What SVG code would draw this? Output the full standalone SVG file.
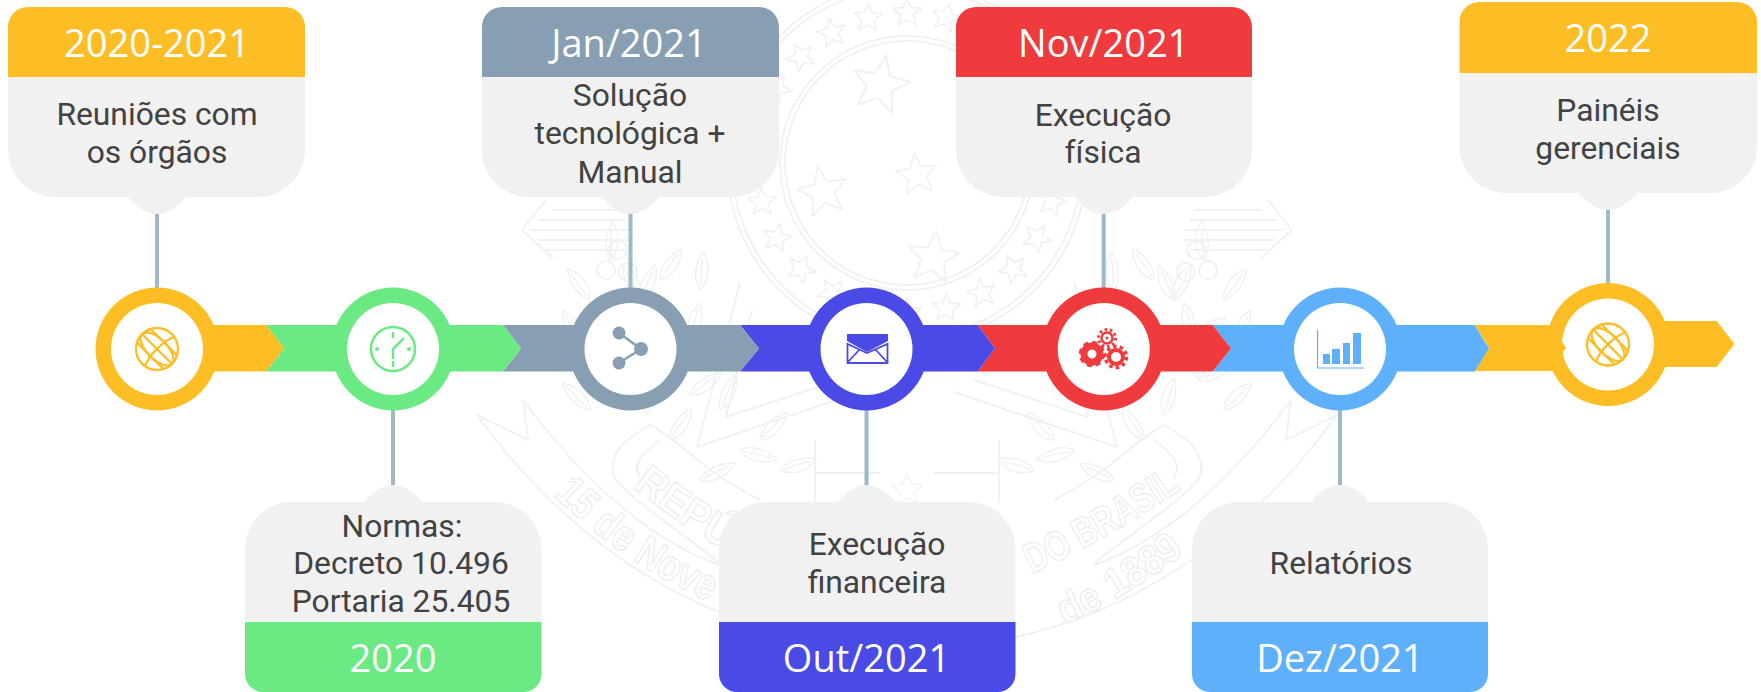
<svg xmlns="http://www.w3.org/2000/svg" width="1761" height="692" viewBox="0 0 1761 692">
<style>
.wm{fill:none;stroke:#f1f1f1;stroke-width:2;stroke-linejoin:round}
.wt{font-family:"Liberation Sans",Arial,sans-serif;font-weight:700;fill:#fff;stroke:#eeeeee;stroke-width:1.5}
.body{fill:#f1f1f1}
.b{font-family:Roboto,"Liberation Sans",sans-serif;font-size:31.800px;fill:#424242;text-anchor:middle}
.h{font-family:"Open Sans","Noto Sans",sans-serif;font-size:38px;fill:#fff;text-anchor:middle}
.ln{stroke:#9fb8cb;stroke-width:4;fill:none}
.wh{fill:#fff}
.or{fill:#fdbd25}.gr{fill:#6be983}.sl{fill:#889fb3}.in{fill:#4a4ae6}.rd{fill:#ef3b3e}.sk{fill:#5fb0fb}
</style>
<defs>
<path id="st" d="M0-10 2.600-3.500 9.500-3.100 4.200 1.300 5.900 8.100 0 4.300-5.900 8.100-4.200 1.300-9.500-3.100-2.600-3.500Z"/>
<path id="lf" d="M0 0C8-8 24-10 38-4 28 6 10 8 0 0ZM4 0C14-2 24-3 32-3"/>
<path id="tipT" d="M-29 0C-20 11-10 17 0 17 10 17 20 11 29 0Z"/>
<path id="tipB" d="M-29 0C-20-11-10-17 0-17 10-17 20-11 29 0Z"/>
<g id="globe" fill="none" stroke-width="2.300">
<circle r="21"/>
<ellipse rx="21" ry="10" transform="rotate(45)"/>
<path d="M-15-15 15 15M-6.500-20C4-10 10-4 20 6.500M-20-6.500C-10 4-4 10 6.500 20M17-12C6-8-8 6-12 17"/>
</g>
</defs>

<g id="watermark" class="wm">
<circle cx="907" cy="163" r="127"/><circle cx="907" cy="163" r="122"/>
<circle cx="907" cy="163" r="180"/><circle cx="907" cy="163" r="175"/>
<g id="ring-stars" stroke-width="1.200">
<use href="#st" transform="translate(1057 163) scale(1.500)"/><use href="#st" transform="translate(1052 202) rotate(15) scale(1.500)"/>
<use href="#st" transform="translate(1037 238) rotate(30) scale(1.500)"/><use href="#st" transform="translate(1013 269) rotate(45) scale(1.500)"/>
<use href="#st" transform="translate(982 293) rotate(60) scale(1.500)"/><use href="#st" transform="translate(946 308) rotate(75) scale(1.500)"/>
<use href="#st" transform="translate(907 313) scale(1.500)"/><use href="#st" transform="translate(868 308) rotate(-15) scale(1.500)"/>
<use href="#st" transform="translate(832 293) rotate(-30) scale(1.500)"/><use href="#st" transform="translate(801 269) rotate(-45) scale(1.500)"/>
<use href="#st" transform="translate(777 238) rotate(-60) scale(1.500)"/><use href="#st" transform="translate(762 202) rotate(-75) scale(1.500)"/>
<use href="#st" transform="translate(757 163) scale(1.500)"/><use href="#st" transform="translate(762 124) rotate(15) scale(1.500)"/>
<use href="#st" transform="translate(777 88) rotate(30) scale(1.500)"/><use href="#st" transform="translate(801 57) rotate(45) scale(1.500)"/>
<use href="#st" transform="translate(832 33) rotate(60) scale(1.500)"/><use href="#st" transform="translate(868 18) rotate(75) scale(1.500)"/>
<use href="#st" transform="translate(907 13) scale(1.500)"/><use href="#st" transform="translate(946 18) rotate(15) scale(1.500)"/>
<use href="#st" transform="translate(982 33) rotate(30) scale(1.500)"/><use href="#st" transform="translate(1013 57) rotate(45) scale(1.500)"/>
<use href="#st" transform="translate(1037 88) rotate(60) scale(1.500)"/><use href="#st" transform="translate(1052 124) rotate(75) scale(1.500)"/>
</g>
<g id="cross-stars" stroke-width=".7">
<use href="#st" transform="translate(880 85) rotate(12) scale(3)"/>
<use href="#st" transform="translate(823 192) rotate(-12) scale(2.600)"/>
<use href="#st" transform="translate(917 175) rotate(-8) scale(2.200)"/>
<use href="#st" transform="translate(933 258) rotate(8) scale(2.700)"/>
<use href="#st" transform="translate(907 490) scale(1.700)"/>
</g>
<g id="half">
<path d="M697 447 740 283M697 447 860 392M726 417 752 310M726 417 840 380"/>
<path d="M546 200 522 230 553 258M552 210H620M538 220H625M530 230H630M538 240H630M546 250H625"/>
<path d="M650 425C625 440 610 450 613 475 620 490 650 510 720 563M650 425C680 440 700 470 760 500M660 440C640 455 632 465 640 478"/>
<path d="M815 503V473H880M815 473V440"/>
<g stroke-width="1.500">
<use href="#lf" transform="translate(640 300) rotate(-60)"/><use href="#lf" transform="translate(640 300) rotate(-110)"/>
<use href="#lf" transform="translate(620 340) rotate(-70)"/><use href="#lf" transform="translate(620 340) rotate(-140)"/>
<use href="#lf" transform="translate(615 380) rotate(-80)"/><use href="#lf" transform="translate(615 380) rotate(-150)"/>
<use href="#lf" transform="translate(650 415) rotate(-100)"/><use href="#lf" transform="translate(655 350) rotate(-40)"/>
<use href="#lf" transform="translate(690 395) rotate(-30)"/><use href="#lf" transform="translate(690 340) rotate(-70)"/>
<use href="#lf" transform="translate(740 450) rotate(20)"/><use href="#lf" transform="translate(700 480) rotate(-20)"/>
<use href="#lf" transform="translate(610 260) rotate(-80)"/><use href="#lf" transform="translate(590 300) rotate(-120)"/>
<use href="#lf" transform="translate(670 440) rotate(-50)"/><use href="#lf" transform="translate(720 410) rotate(-60)"/>
<use href="#lf" transform="translate(760 440) rotate(-40)"/><use href="#lf" transform="translate(780 470) rotate(-10)"/>
<use href="#lf" transform="translate(660 280) rotate(-50)"/><use href="#lf" transform="translate(580 345) rotate(-110)"/>
<use href="#lf" transform="translate(590 410) rotate(-130)"/><use href="#lf" transform="translate(700 290) rotate(-80)"/>
</g>
<circle cx="618" cy="250" r="9"/><circle cx="606" cy="270" r="9"/><circle cx="628" cy="272" r="9"/>
<path d="M523 400 528 440 477 415Q640 640 907 652M523 400Q620 530 720 565"/>
</g>
<use href="#half" transform="matrix(-1 0 0 1 1814 0)"/>
</g>
<g id="watermark-text">
<path id="wp1" d="M553 495Q625 565 712 603" fill="none"/>
<path id="wp2" d="M632 487Q680 525 728 552" fill="none"/>
<path id="wp3" d="M1032 574Q1115 535 1186 486" fill="none"/>
<path id="wp4" d="M1065 625Q1130 595 1186 552" fill="none"/>
<text class="wt" font-size="44"><textPath href="#wp1" textLength="190" lengthAdjust="spacingAndGlyphs">15 de Nove</textPath></text>
<text class="wt" font-size="44"><textPath href="#wp2" textLength="112" lengthAdjust="spacingAndGlyphs">REPÚ</textPath></text>
<text class="wt" font-size="42"><textPath href="#wp3" textLength="172" lengthAdjust="spacingAndGlyphs">DO BRASIL</textPath></text>
<text class="wt" font-size="42"><textPath href="#wp4" textLength="140" lengthAdjust="spacingAndGlyphs">de 1889</textPath></text>
</g>

<g id="connectors">
<path class="ln" d="M157 210V290M393 408V490M630.500 210V290M866.500 408V490M1103.700 210V290M1340 408V490M1608 205V285"/>
</g>

<g id="timeline-bar">
<path class="or" d="M1474.500 325H1640V371H1474.500L1489 348Z"/>
<path class="or" d="M1600 321H1716.500L1734.600 344 1716.500 367H1600Z"/>
<path class="sk" d="M1212.600 325H1474.500L1489 348.500 1474.500 371.500H1212.600L1231 348.500Z"/>
<path class="rd" d="M977.500 325H1212.600L1231 348.500 1212.600 371.500H977.500L995 348.500Z"/>
<path class="in" d="M740 325H977.500L995 348.500 977.500 371.500H740L759 348.500Z"/>
<path class="sl" d="M503 325H740L759 348.500 740 371.500H503L521 348.500Z"/>
<path class="gr" d="M266 325H503L521 348.500 503 371.500H266L284 348.500Z"/>
<path class="or" d="M157 325H266L284 348.500 266 371.500H157Z"/>
</g>

<g id="node-1">
<circle class="or" cx="157" cy="349" r="61.500"/><circle class="wh" cx="157" cy="349" r="46"/>
<use href="#globe" x="157" y="349" stroke="#fdbd25"/>
<path class="or" d="M8 77V27A20 20 0 0 1 28 7H285A20 20 0 0 1 305 27V77Z"/>
<path class="body" d="M8 77H305V150A47 47 0 0 1 258 197H55A47 47 0 0 1 8 150Z"/>
<use href="#tipT" class="body" x="157" y="197"/>
<text class="h" x="157" y="57">2020-2021</text>
<text class="b" x="157" y="125">Reuniões com</text>
<text class="b" x="157" y="163">os órgãos</text>
</g>

<g id="node-2">
<circle class="gr" cx="393" cy="349" r="61.500"/><circle class="wh" cx="393" cy="349" r="46"/>
<g fill="none" stroke="#6be983" stroke-width="2.500"><circle cx="393" cy="349" r="22"/><path d="M393 358V349L403 339" stroke-linecap="round"/><path d="M393 333V337M393 362V366" stroke-linecap="round"/></g>
<circle class="gr" cx="377" cy="349" r="2"/><circle class="gr" cx="409" cy="349" r="2"/>
<path class="body" d="M245 622V549A47 47 0 0 1 292 502H494.500A47 47 0 0 1 541.500 549V622Z"/>
<use href="#tipB" class="body" x="393" y="502"/>
<path class="gr" d="M245 622H541.500V674A18 18 0 0 1 523.500 692H263A18 18 0 0 1 245 674Z"/>
<text class="b" x="402" y="537">Normas:</text>
<text class="b" x="401" y="574">Decreto 10.496</text>
<text class="b" x="401" y="612">Portaria 25.405</text>
<text class="h" x="393" y="672">2020</text>
</g>

<g id="node-3">
<circle class="sl" cx="630.500" cy="349" r="61.500"/><circle class="wh" cx="630.500" cy="349" r="46"/>
<path d="M619 333 641 349 619 363" fill="none" stroke="#889fb3" stroke-width="2.500"/>
<circle class="sl" cx="619" cy="333" r="6.500"/><circle class="sl" cx="641" cy="349" r="7"/><circle class="sl" cx="619" cy="363" r="6.500"/>
<path class="sl" d="M482 77V27A20 20 0 0 1 502 7H759A20 20 0 0 1 779 27V77Z"/>
<path class="body" d="M482 77H779V150A47 47 0 0 1 732 197H529A47 47 0 0 1 482 150Z"/>
<use href="#tipT" class="body" x="630.500" y="197"/>
<text class="h" x="629" y="57">Jan/2021</text>
<text class="b" x="630" y="106">Solução</text>
<text class="b" x="630" y="144">tecnológica +</text>
<text class="b" x="630" y="183">Manual</text>
</g>

<g id="node-4">
<circle class="in" cx="866.500" cy="349" r="61.500"/><circle class="wh" cx="866.500" cy="349" r="46"/>
<path class="in" d="M847 334H888V341L867 352 847 341Z"/>
<path d="M847.500 344V363H887.500V344L867 353ZM848 362 860 349M887 362 875 349" fill="none" stroke="#4a4ae6" stroke-width="1.800"/>
<path class="body" d="M719 622V549A47 47 0 0 1 766 502H968.500A47 47 0 0 1 1015.500 549V622Z"/>
<use href="#tipB" class="body" x="866.500" y="502"/>
<path class="in" d="M719 622H1015.500V674A18 18 0 0 1 997.500 692H737A18 18 0 0 1 719 674Z"/>
<text class="b" x="877" y="555">Execução</text>
<text class="b" x="877" y="593">financeira</text>
<text class="h" x="866.500" y="672">Out/2021</text>
</g>

<g id="node-5">
<circle class="rd" cx="1103.700" cy="349" r="61.500"/><circle class="wh" cx="1103.700" cy="349" r="46"/>
<g fill="none" stroke="#ef3b3e">
<circle cx="1092" cy="354" r="8" stroke-width="7"/><circle cx="1092" cy="354" r="11.500" stroke-width="3.500" stroke-dasharray="5 4.030"/>
<circle cx="1116" cy="357" r="7" stroke-width="4"/><circle cx="1116" cy="357" r="10.500" stroke-width="3.500" stroke-dasharray="3.500 3.100"/>
<circle cx="1107" cy="338" r="5.500" stroke-width="2.500"/><circle cx="1107" cy="338" r="8.500" stroke-width="3" stroke-dasharray="2.500 2.840"/>
</g>
<circle class="rd" cx="1107" cy="338" r="1.500"/>
<path class="rd" d="M956 77V27A20 20 0 0 1 976 7H1232A20 20 0 0 1 1252 27V77Z"/>
<path class="body" d="M956 77H1252V150A47 47 0 0 1 1205 197H1003A47 47 0 0 1 956 150Z"/>
<use href="#tipT" class="body" x="1103.700" y="197"/>
<text class="h" x="1103.700" y="57">Nov/2021</text>
<text class="b" x="1103" y="126">Execução</text>
<text class="b" x="1103" y="163">física</text>
</g>

<g id="node-6">
<circle class="sk" cx="1340" cy="349" r="61.500"/><circle class="wh" cx="1340" cy="349" r="46"/>
<path d="M1317.500 330V368H1364" fill="none" stroke="#5fb0fb" stroke-width="1.200"/>
<path class="sk" d="M1323 354h7v10h-7ZM1332 349h8v15h-8ZM1343 343h7v21h-7ZM1353 333h8v31h-8Z"/>
<path class="body" d="M1192 622V549A47 47 0 0 1 1239 502H1441A47 47 0 0 1 1488 549V622Z"/>
<use href="#tipB" class="body" x="1340" y="502"/>
<path class="sk" d="M1192 622H1488V674A18 18 0 0 1 1470 692H1210A18 18 0 0 1 1192 674Z"/>
<text class="b" x="1341" y="574">Relatórios</text>
<text class="h" x="1340" y="672">Dez/2021</text>
</g>

<g id="node-7">
<circle class="or" cx="1608" cy="344.500" r="61.500"/><circle class="wh" cx="1608" cy="344.500" r="46"/>
<path class="or" d="M1560 338 1566 348 1560 356Z"/>
<use href="#globe" x="1608" y="344.500" stroke="#fdbd25"/>
<path class="or" d="M1459.500 73V22A20 20 0 0 1 1479.500 2H1737A20 20 0 0 1 1757 22V73Z"/>
<path class="body" d="M1459.500 73H1757V146A47 47 0 0 1 1710 193H1506.500A47 47 0 0 1 1459.500 146Z"/>
<use href="#tipT" class="body" x="1608" y="193"/>
<text class="h" x="1608" y="52">2022</text>
<text class="b" x="1608" y="121">Painéis</text>
<text class="b" x="1608" y="159">gerenciais</text>
</g>
</svg>
